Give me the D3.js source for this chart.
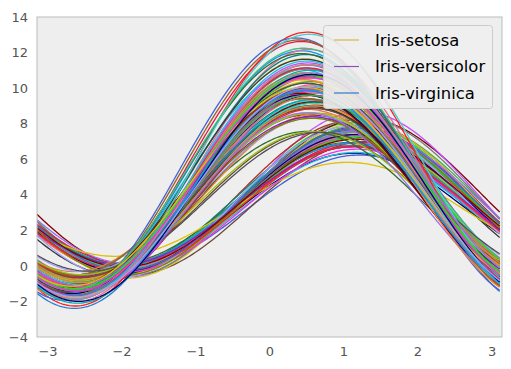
<!DOCTYPE html>
<html>
<head>
<meta charset="utf-8">
<script src="https://cdn.jsdelivr.net/npm/d3@7"></script>
<style>
  body { margin: 0; background: #fff; }
  svg { display: block; font-family: "DejaVu Sans", sans-serif; }
</style>
</head>
<body>
<svg id="chart" width="511" height="369"></svg>
<script>
// Iris data: [sepal length, sepal width, petal length, petal width]
const setosa = [
[5.1,3.5,1.4,0.2],[4.9,3.0,1.4,0.2],[4.7,3.2,1.3,0.2],[4.6,3.1,1.5,0.2],[5.0,3.6,1.4,0.2],
[5.4,3.9,1.7,0.4],[4.6,3.4,1.4,0.3],[5.0,3.4,1.5,0.2],[4.4,2.9,1.4,0.2],[4.9,3.1,1.5,0.1],
[5.4,3.7,1.5,0.2],[4.8,3.4,1.6,0.2],[4.8,3.0,1.4,0.1],[4.3,3.0,1.1,0.1],[5.8,4.0,1.2,0.2],
[5.7,4.4,1.5,0.4],[5.4,3.9,1.3,0.4],[5.1,3.5,1.4,0.3],[5.7,3.8,1.7,0.3],[5.1,3.8,1.5,0.3],
[5.4,3.4,1.7,0.2],[5.1,3.7,1.5,0.4],[4.6,3.6,1.0,0.2],[5.1,3.3,1.7,0.5],[4.8,3.4,1.9,0.2],
[5.0,3.0,1.6,0.2],[5.0,3.4,1.6,0.4],[5.2,3.5,1.5,0.2],[5.2,3.4,1.4,0.2],[4.7,3.2,1.6,0.2],
[4.8,3.1,1.6,0.2],[5.4,3.4,1.5,0.4],[5.2,4.1,1.5,0.1],[5.5,4.2,1.4,0.2],[4.9,3.1,1.5,0.1],
[5.0,3.2,1.2,0.2],[5.5,3.5,1.3,0.2],[4.9,3.1,1.5,0.1],[4.4,3.0,1.3,0.2],[5.1,3.4,1.5,0.2],
[5.0,3.5,1.3,0.3],[4.5,2.3,1.3,0.3],[4.4,3.2,1.3,0.2],[5.0,3.5,1.6,0.6],[5.1,3.8,1.9,0.4],
[4.8,3.0,1.4,0.3],[5.1,3.8,1.6,0.2],[4.6,3.2,1.4,0.2],[5.3,3.7,1.5,0.2],[5.0,3.3,1.4,0.2]
];
const versicolor = [
[7.0,3.2,4.7,1.4],[6.4,3.2,4.5,1.5],[6.9,3.1,4.9,1.5],[5.5,2.3,4.0,1.3],[6.5,2.8,4.6,1.5],
[5.7,2.8,4.5,1.3],[6.3,3.3,4.7,1.6],[4.9,2.4,3.3,1.0],[6.6,2.9,4.6,1.3],[5.2,2.7,3.9,1.4],
[5.0,2.0,3.5,1.0],[5.9,3.0,4.2,1.5],[6.0,2.2,4.0,1.0],[6.1,2.9,4.7,1.4],[5.6,2.9,3.6,1.3],
[6.7,3.1,4.4,1.4],[5.6,3.0,4.5,1.5],[5.8,2.7,4.1,1.0],[6.2,2.2,4.5,1.5],[5.6,2.5,3.9,1.1],
[5.9,3.2,4.8,1.8],[6.1,2.8,4.0,1.3],[6.3,2.5,4.9,1.5],[6.1,2.8,4.7,1.2],[6.4,2.9,4.3,1.3],
[6.6,3.0,4.4,1.4],[6.8,2.8,4.8,1.4],[6.7,3.0,5.0,1.7],[6.0,2.9,4.5,1.5],[5.7,2.6,3.5,1.0],
[5.5,2.4,3.8,1.1],[5.5,2.4,3.7,1.0],[5.8,2.7,3.9,1.2],[6.0,2.7,5.1,1.6],[5.4,3.0,4.5,1.5],
[6.0,3.4,4.5,1.6],[6.7,3.1,4.7,1.5],[6.3,2.3,4.4,1.3],[5.6,3.0,4.1,1.3],[5.5,2.5,4.0,1.3],
[5.5,2.6,4.4,1.2],[6.1,3.0,4.6,1.4],[5.8,2.6,4.0,1.2],[5.0,2.3,3.3,1.0],[5.6,2.7,4.2,1.3],
[5.7,3.0,4.2,1.2],[5.7,2.9,4.2,1.3],[6.2,2.9,4.3,1.3],[5.1,2.5,3.0,1.1],[5.7,2.8,4.1,1.3]
];
const virginica = [
[6.3,3.3,6.0,2.5],[5.8,2.7,5.1,1.9],[7.1,3.0,5.9,2.1],[6.3,2.9,5.6,1.8],[6.5,3.0,5.8,2.2],
[7.6,3.0,6.6,2.1],[4.9,2.5,4.5,1.7],[7.3,2.9,6.3,1.8],[6.7,2.5,5.8,1.8],[7.2,3.6,6.1,2.5],
[6.5,3.2,5.1,2.0],[6.4,2.7,5.3,1.9],[6.8,3.0,5.5,2.1],[5.7,2.5,5.0,2.0],[5.8,2.8,5.1,2.4],
[6.4,3.2,5.3,2.3],[6.5,3.0,5.5,1.8],[7.7,3.8,6.7,2.2],[7.7,2.6,6.9,2.3],[6.0,2.2,5.0,1.5],
[6.9,3.2,5.7,2.3],[5.6,2.8,4.9,2.0],[7.7,2.8,6.7,2.0],[6.3,2.7,4.9,1.8],[6.7,3.3,5.7,2.1],
[7.2,3.2,6.0,1.8],[6.2,2.8,4.8,1.8],[6.1,3.0,4.9,1.8],[6.4,2.8,5.6,2.1],[7.2,3.0,5.8,1.6],
[7.4,2.8,6.1,1.9],[7.9,3.8,6.4,2.0],[6.4,2.8,5.6,2.2],[6.3,2.8,5.1,1.5],[6.1,2.6,5.6,1.4],
[7.7,3.0,6.1,2.3],[6.3,3.4,5.6,2.4],[6.4,3.1,5.5,1.8],[6.0,3.0,4.8,1.8],[6.9,3.1,5.4,2.1],
[6.7,3.1,5.6,2.4],[6.9,3.1,5.1,2.3],[5.8,2.7,5.1,1.9],[6.8,3.2,5.9,2.3],[6.7,3.3,5.7,2.5],
[6.7,3.0,5.2,2.3],[6.3,2.5,5.0,1.9],[6.5,3.0,5.2,2.0],[6.2,3.4,5.4,2.3],[5.9,3.0,5.1,1.8]
];
const classNames = ["Iris-setosa", "Iris-versicolor", "Iris-virginica"];
const legendColors = ["#d4b54c", "#8b4fc1", "#2b7bd0"];
const lineColors = ["#e6194b","#3cb44b","#c8c820","#4363d8","#f58231","#911eb4","#46d0d0","#f032e6",
  "#9ac20c","#e06f9a","#108080","#9a6ff0","#9a6324","#7a7a7a","#800000","#40c080","#808000",
  "#d08060","#000075","#3a3a3a","#20e020","#ff40a0","#1090ff","#b03020","#60a060","#c050ff",
  "#00b0b0","#ff2020","#505050","#a0a0ff","#2f6f2f","#e0c000","#6b4a3a","#20c0e0","#a0d000"];
const yTicks = [-4, -2, 0, 2, 4, 6, 8, 10, 12, 14];
const xTicks = [-3, -2, -1, 0, 1, 2, 3];

const samples = 200;
const ts = d3.range(samples).map(i => -Math.PI + 2 * Math.PI * i / samples);
// Andrews curve (as drawn by this pandas version: x1/sqrt2 + x2 sin t + x3 cos t)
function andrews(row) {
  return t => row[0] / Math.SQRT2 + row[1] * Math.sin(t) + row[2] * Math.cos(t);
}

const svg = d3.select("#chart");
const pL = 37, pR = 502, pT = 17, pB = 337;
const x = d3.scaleLinear().domain([-Math.PI, Math.PI]).range([pL, pR]);
const y = d3.scaleLinear().domain([-4, 14]).range([pB, pT]);

svg.append("rect").attr("x", pL).attr("y", pT).attr("width", pR - pL).attr("height", pB - pT)
  .attr("fill", "#eeeeee");

svg.append("clipPath").attr("id", "clip").append("rect")
  .attr("x", pL).attr("y", pT).attr("width", pR - pL).attr("height", pB - pT);

const rows = [];
[setosa, versicolor, virginica].forEach((arr, c) => arr.forEach((r, i) => rows.push({ r, c, i })));

const line = d3.line().x(d => x(d[0])).y(d => y(d[1]));
const g = svg.append("g").attr("clip-path", "url(#clip)");
const nCol = lineColors.length;
rows.forEach((d, k) => {
  const f = andrews(d.r);
  const pts = ts.map(t => [t, f(t)]);
  const col = d.i === 0 ? legendColors[d.c] : lineColors[(k * 11) % nCol];
  g.append("path").attr("d", line(pts)).attr("fill", "none").attr("stroke", col).attr("stroke-width", 1.3);
});

svg.append("rect").attr("x", pL).attr("y", pT).attr("width", pR - pL).attr("height", pB - pT)
  .attr("fill", "none").attr("stroke", "#bcbcbc").attr("stroke-width", 1);

const fmt = d => d < 0 ? "\u2212" + Math.abs(d) : String(d);
const yAxis = d3.axisLeft(y).tickValues(yTicks).tickSize(0).tickPadding(9).tickFormat(fmt);
svg.append("g").attr("transform", `translate(${pL},0)`).call(yAxis)
  .call(a => a.select(".domain").remove())
  .selectAll("text").attr("font-size", 13).attr("fill", "#555").attr("font-family", "DejaVu Sans, sans-serif");

const xAxis = d3.axisBottom(x).tickValues(xTicks).tickSize(0).tickPadding(10).tickFormat(fmt);
svg.append("g").attr("transform", `translate(0,${pB})`).call(xAxis)
  .call(a => a.select(".domain").remove())
  .selectAll("text").attr("font-size", 13).attr("fill", "#555").attr("font-family", "DejaVu Sans, sans-serif");

// Legend
const lg = svg.append("g");
lg.append("rect").attr("x", 323.5).attr("y", 25.5).attr("width", 169).attr("height", 83).attr("rx", 3)
  .attr("fill", "#eeeeee").attr("fill-opacity", 0.9).attr("stroke", "#cccccc");
classNames.forEach((name, i) => {
  const yy = 40 + i * 26.5;
  lg.append("line").attr("x1", 334).attr("x2", 359).attr("y1", yy).attr("y2", yy)
    .attr("stroke", legendColors[i]).attr("stroke-width", 1.2);
  lg.append("text").attr("x", 375).attr("y", yy).attr("dy", "0.36em").attr("font-size", 16.4)
    .attr("fill", "#000").text(name);
});
</script>
</body>
</html>
